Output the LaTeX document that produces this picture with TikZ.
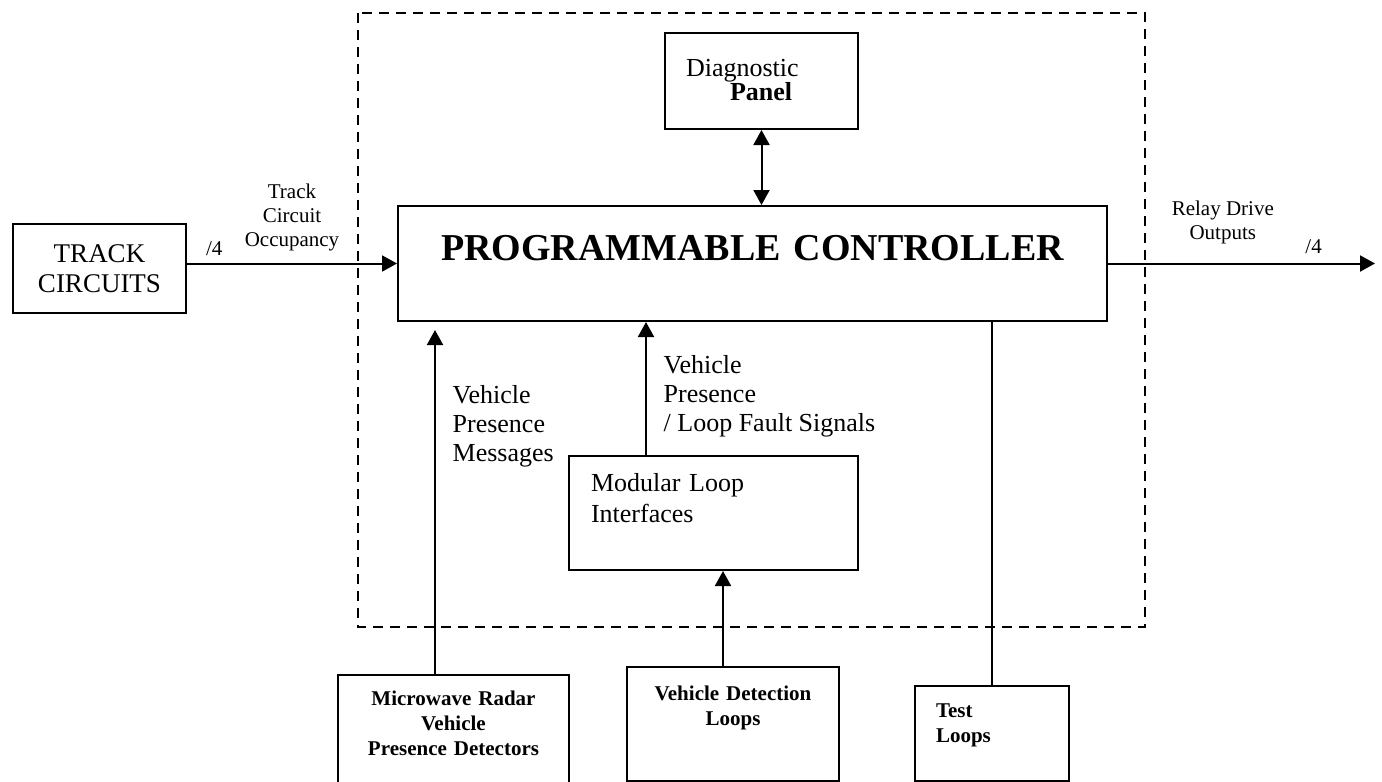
\documentclass[tikz,border=0pt]{standalone}
\usepackage{fontspec}
\setmainfont{Liberation Serif}
\usetikzlibrary{arrows.meta,positioning}

\begin{document}
\begin{tikzpicture}[
            x=0.5pt, y=-0.5pt,
            box/.style={rectangle, draw, line width=1pt, anchor=north west, inner ysep=0pt},
            arrow/.style={-{Triangle[length=7.5pt,width=8pt]}, line width=1pt},
            dblarrow/.style={{Triangle[length=7.5pt,width=8pt]}-{Triangle[length=7.5pt,width=8pt]}, line width=1pt},
            wire/.style={line width=1pt},
            frame/.style={dashed, dash pattern=on 5pt off 3.5pt, line width=0.9pt},
            small/.style={font=\fontsize{10.5}{12}\selectfont, align=center},
            big/.style={font=\fontsize{13}{14.5}\selectfont, align=left}
            ]
            \useasboundingbox (0,0) rectangle (1382,782);

            % Dashed boundary
            \draw[frame] (358,13) rectangle (1145,627);

            % Main blocks
            \node[box, text width=354.5pt, inner xsep=0pt, align=center, text height=27pt, text depth=30.5pt, font=\bfseries\fontsize{19}{22}\selectfont] (ctrl) at (397,205) {PROGRAMMABLE CONTROLLER};
            \node[box, text width=75.5pt, inner xsep=10.5pt, align=left, text height=21.5pt, text depth=26.5pt, font=\fontsize{13}{12}\selectfont] (diag) at (664,32) {Diagnostic\\\hspace*{22pt}\textbf{Panel}};
            \node[box, text width=86.5pt, inner xsep=0pt, align=center, text height=19pt, text depth=25.5pt, font=\fontsize{13.5}{15}\selectfont] (track) at (12,223) {TRACK\\CIRCUITS};
            \node[box, text width=122.5pt, inner xsep=11pt, align=left, text height=17.5pt, text depth=39.5pt, font=\fontsize{13}{15.5}\selectfont] (mli) at (568,455) {Modular Loop\\Interfaces};

            % Field equipment
            \node[box, text width=115.5pt, inner xsep=0pt, align=center, text height=15pt, text depth=48pt, font=\bfseries\fontsize{10.5}{12.5}\selectfont] (radar) at (337,674) {Microwave Radar\\Vehicle\\Presence Detectors};
            \node[box, text width=106pt, inner xsep=0pt, align=center, text height=16.5pt, text depth=40.5pt, font=\bfseries\fontsize{10.5}{12.5}\selectfont] (vdl) at (626,666) {Vehicle Detection\\Loops};
            \node[box, text width=56pt, inner xsep=10.5pt, align=left, text height=15.5pt, text depth=32pt, font=\bfseries\fontsize{10.5}{12.5}\selectfont] (test) at (914,685) {Test\\Loops};
            \coordinate (out) at (1375,260);

            % Connections
            \draw[arrow] (track.east |- ctrl.west) -- node[small, pos=0.13, above] {/4}
                node[small, pos=0.5, above, yshift=2.5pt] {Track\\Circuit\\Occupancy} (ctrl.west);
            \draw[arrow] (ctrl.east) -- node[small, pos=0.43, above, yshift=5.75pt] {Relay Drive\\Outputs}
                node[small, pos=0.77, above, yshift=1.25pt] {/4} (ctrl.east -| out);
            \draw[dblarrow] (diag.south) -- (diag.south |- ctrl.north);
            \draw[arrow] ([xshift=39pt]mli.north west) -- node[big, pos=0.44, anchor=west, xshift=5pt] {Vehicle\\Presence\\/ Loop Fault Signals}
                ([xshift=39pt]mli.north west |- ctrl.south);
            \draw[arrow] ([xshift=-9.25pt]radar.north) -- node[big, pos=0.72, anchor=west, xshift=5pt] {Vehicle\\Presence\\Messages}
                ([xshift=-9.25pt, yshift=-4pt]radar.north |- ctrl.south);
            \draw[arrow] ([xshift=-5pt]vdl.north) -- ([xshift=-5pt]vdl.north |- mli.south);
            \draw[wire] (test.north) -- (test.north |- ctrl.south);

        \end{tikzpicture}
\end{document}
